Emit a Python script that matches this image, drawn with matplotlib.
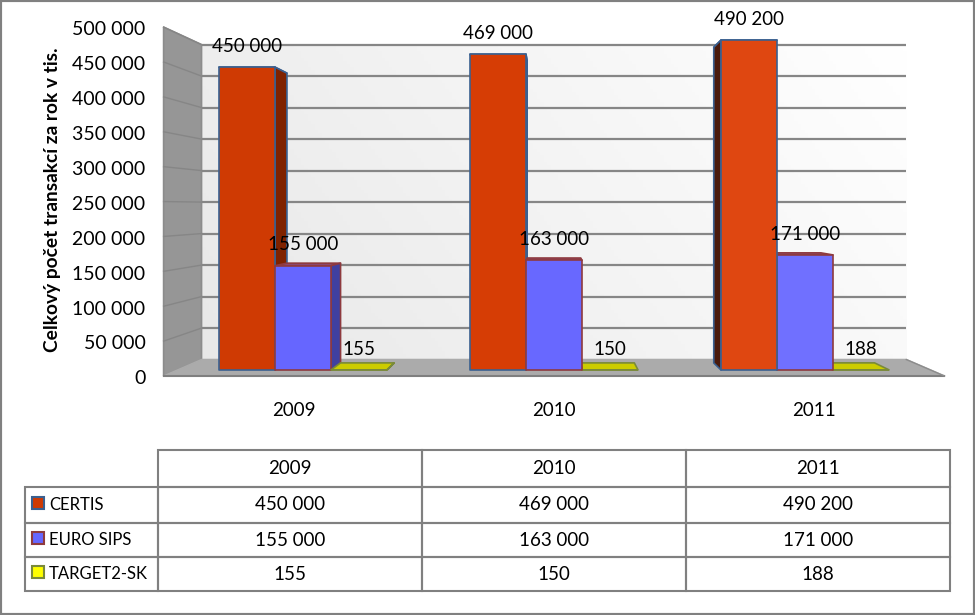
import matplotlib
matplotlib.use('Agg')
import matplotlib.pyplot as plt
import numpy as np
from matplotlib.patches import Rectangle
from matplotlib.table import Table

plt.rcParams['font.family'] = ['Lato', 'DejaVu Sans']

years = ['2009', '2010', '2011']
series = ['CERTIS', 'EURO SIPS', 'TARGET2-SK']
certis = [450000, 469000, 490200]
euro_sips = [155000, 163000, 171000]
target2 = [155, 150, 188]
y_ticks = [0, 50000, 100000, 150000, 200000, 250000, 300000, 350000, 400000, 450000, 500000]
y_label = 'Celkový počet transakcí za rok v tis.'

front_cols = [['#CF3A03', '#D63D05', '#DF4711'], ['#6666FF', '#6868FF', '#7070FF'], ['#CCCC00', '#CCCC00', '#CCCC00']]
side_cols = [['#7F2200', '#7F2200', '#4A1A0C'], ['#4040A0', '#4040A0', '#4040A0'], ['#8A8A00', '#8A8A00', '#8A8A00']]
top_cols = [['#A83008', '#A83008', '#B04010'], ['#8A4A78', '#8A4A78', '#8A4A78'], ['#CCCC00', '#CCCC00', '#CCCC00']]
edge_cols = ['#3A6090', '#8E3A3E', '#7A8A3A']
swatch_cols = ['#CF3A03', '#6666FF', '#FFFF00']


def fmt(v):
    return f'{v:,}'.replace(',', ' ')


W, H = 975, 615
fig = plt.figure(figsize=(W / 100, H / 100), dpi=100)
ax = fig.add_axes([0, 0, 1, 1])

# one category = 251 px, value 0 sits at y=370 px on the front plane of the bars
x_scale = 251.0
y_scale = 0.000673
x_min, x_max = -303 / x_scale, (W - 303) / x_scale
y_min, y_max = (370 - H) / y_scale, 370 / y_scale

# perspective: everything shrinks towards this point
vp_x = 250 / x_scale
vp_y = 163 / y_scale
r_edge = 1.037
r_wall = 0.936
r_back = 0.957
bar_w = 56 / x_scale


def proj(x, v, r):
    return vp_x + (x - vp_x) * r, vp_y + (v - vp_y) * r


def face(pts, col, edge=None, z=2, lw=1.2):
    ax.fill([p[0] for p in pts], [p[1] for p in pts], facecolor=col,
            edgecolor=edge if edge else col, linewidth=lw, zorder=z, joinstyle='round')


left, right = -0.5, 2.5
top = y_ticks[-1]

# back wall
bx0, v0 = proj(left, 0, r_wall)
bx1, v1 = proj(right, top, r_wall)
gx, gy = np.meshgrid(np.linspace(0, 1, 200), np.linspace(0, 1, 100))
grad = np.clip(0.75 * gx + 0.25 * gy, 0, 1)
ax.imshow(grad, extent=[bx0, bx1, v1, v0], origin='upper', aspect='auto',
          cmap=matplotlib.colors.LinearSegmentedColormap.from_list('w', ['#E8E8E8', '#FFFFFF']), zorder=0)

# left wall and floor
face([proj(left, 0, r_edge), proj(left, top, r_edge), proj(left, top, r_wall), proj(left, 0, r_wall)],
     '#969696', '#8C8C8C', z=1)
face([proj(left, 0, r_edge), proj(right, 0, r_edge), proj(right, 0, r_wall), proj(left, 0, r_wall)],
     '#ABABAB', '#ABABAB', z=1)
xa, va = proj(left, 0, r_edge)
xb, vb = proj(right, 0, r_edge)
ax.plot([xa, xb], [va, vb], color='#7F7F7F', lw=1.5, zorder=1)
xc, vc = proj(right, 0, r_wall)
ax.plot([xb, xc], [vb, vc], color='#8C8C8C', lw=1, zorder=1)

# gridlines
for v in y_ticks:
    x1, y1 = proj(left, v, r_edge)
    x2, y2 = proj(left, v, r_wall)
    x3, y3 = proj(right, v, r_wall)
    if v > 0:
        ax.plot([x2, x3], [y2, y3], color='#868686', lw=1.6, zorder=1, solid_capstyle='butt')
        ax.plot([x1, x2], [y1, y2], color='#868686', lw=1, zorder=1)
    ax.annotate(fmt(v), (x1, y1), xytext=(-13, -2), textcoords='offset points',
                ha='right', va='center', fontsize=14, color='black')

# bars, farthest from the vanishing point first
values = [certis, euro_sips, target2]
bars = []
for s in range(3):
    for i in range(3):
        x0 = i + (s - 1.5) * bar_w
        bars.append((abs(x0 + bar_w / 2 - vp_x), s, i, x0))
bars.sort(reverse=True)

for n, (d, s, i, x0) in enumerate(bars):
    x1 = x0 + bar_w
    v = values[s][i]
    z = 3 + n * 0.1
    edge = edge_cols[s]
    face([proj(x0, v, 1), proj(x1, v, 1), proj(x1, v, r_back), proj(x0, v, r_back)], top_cols[s][i], edge, z)
    # the side that faces the viewer depends on which side of the vanishing point the bar is
    if x1 < vp_x:
        face([proj(x1, 0, 1), proj(x1, v, 1), proj(x1, v, r_back), proj(x1, 0, r_back)], side_cols[s][i], edge, z)
    elif x0 > vp_x:
        face([proj(x0, 0, 1), proj(x0, v, 1), proj(x0, v, r_back), proj(x0, 0, r_back)], side_cols[s][i], edge, z)
    face([proj(x0, 0, 1), proj(x1, 0, 1), proj(x1, v, 1), proj(x0, v, 1)], front_cols[s][i], edge, z)

# data labels on top of everything
for s in range(3):
    for i in range(3):
        x0 = i + (s - 1) * bar_w
        ax.annotate(fmt(values[s][i]), (x0, values[s][i]), xytext=(0, 15), textcoords='offset points',
                    ha='center', va='center', fontsize=13.5, color='black', zorder=20)

for i, yr in enumerate(years):
    ax.text(proj(i, 0, r_edge)[0], -40 / y_scale, yr, ha='center', va='center', fontsize=13.5)

ax.text(-250 / x_scale, 170 / y_scale, y_label, rotation=90, ha='center', va='center',
        fontsize=13.8, fontweight='bold')

ax.set_xlim(x_min, x_max)
ax.set_ylim(y_min, y_max)
ax.axis('off')

# data table below the chart
tx0, tx1, ty0, ty1 = 25, 950, 450, 591
ax2 = fig.add_axes([tx0 / W, 1 - ty1 / H, (tx1 - tx0) / W, (ty1 - ty0) / H])
ax2.set_xlim(tx0, tx1)
ax2.set_ylim(ty1, ty0)
ax2.axis('off')

col_w = [133 / 925, 264 / 925, 264 / 925, 264 / 925]
row_h = [37 / 141, 36 / 141, 34 / 141, 34 / 141]
tbl = Table(ax2, bbox=[0, 0, 1, 1])
tbl.auto_set_font_size(False)
cell_kw = dict(edgecolor='#808080', facecolor='none')
for c, yr in enumerate(years):
    tbl.add_cell(0, c + 1, col_w[c + 1], row_h[0], text=yr, loc='center', **cell_kw)
for s, name in enumerate(series):
    cell = tbl.add_cell(s + 1, 0, col_w[0], row_h[s + 1], text=name, loc='left', **cell_kw)
    cell.PAD = 0.18
    for c in range(3):
        tbl.add_cell(s + 1, c + 1, col_w[c + 1], row_h[s + 1], text=fmt(values[s][c]), loc='center', **cell_kw)
tbl.set_fontsize(13.5)
for (r, c), cell in tbl.get_celld().items():
    cell.set_linewidth(1.5)
    if c == 0:
        cell.get_text().set_fontsize(12)
ax2.add_table(tbl)

row_mid = [503, 538, 572]
for s in range(3):
    ax2.add_patch(Rectangle((32, row_mid[s] - 6), 12, 12, facecolor=swatch_cols[s],
                            edgecolor=edge_cols[s], linewidth=1.5, zorder=10))

# outer frame
fig.add_artist(Rectangle((0, 0), 1, 1, transform=fig.transFigure, fill=False, edgecolor='#808080', linewidth=3))

fig.savefig('out.png', dpi=100)
